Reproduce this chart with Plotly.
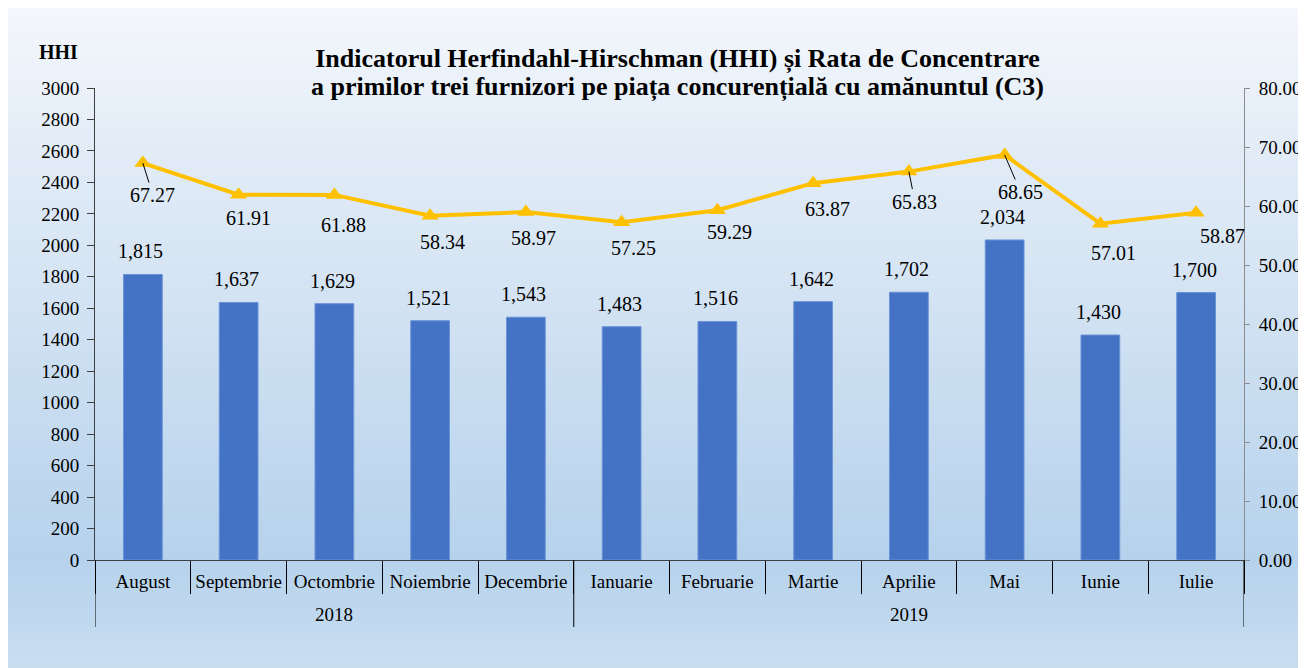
import plotly.graph_objects as go

# ---------------- data ----------------
years = ["2018"] * 5 + ["2019"] * 7
months = ["August", "Septembrie", "Octombrie", "Noiembrie", "Decembrie",
          "Ianuarie", "Februarie", "Martie", "Aprilie", "Mai", "Iunie", "Iulie"]
hhi = [1815, 1637, 1629, 1521, 1543, 1483, 1516, 1642, 1702, 2034, 1430, 1700]
c3 = [67.27, 61.91, 61.88, 58.34, 58.97, 57.25, 59.29, 63.87, 65.83, 68.65, 57.01, 58.87]
title_lines = ["Indicatorul Herfindahl-Hirschman (HHI) și Rata de Concentrare",
               "a primilor trei furnizori pe piața concurențială cu amănuntul (C3)"]

# label placement (pixel offsets of C3 labels from their point) and leader flags
c3_dx = [10, 10, 9, 12, 8, 12, 12, 14, 6, 16, 13, 26]
c3_dy = [32, 23, 30, 26, 26, 26, 22, 26, 30, 37, 29, 23]
c3_leader = [True, False, False, False, False, False, False, False, True, True, False, False]

W, H = 1306, 668
ML, MR, MT, MB = 87, 62, 80, 116
FONT = "Liberation Serif, Times New Roman, serif"
pw, ph = W - ML - MR, H - MT - MB

def px2x(px):
    return (px - ML) / pw

def py2y(py):
    return (H - MB - py) / ph

fig = go.Figure()

fig.add_trace(go.Bar(
    x=months, y=hhi,
    marker=dict(color="#4472C4", line=dict(color="#6a93d8", width=1)),
    hoverinfo="x+y", showlegend=False,
))

idx = list(range(len(months)))
fig.add_trace(go.Scatter(
    x=idx, y=c3, xaxis="x2", yaxis="y2", mode="lines+markers",
    line=dict(color="#FFC000", width=4),
    marker=dict(symbol="triangle-up", size=15, color="#FFC000"),
    showlegend=False,
))

# ---------------- background gradient ----------------
stops = [(0, (0xf4, 0xf7, 0xfc)), (142, (0xe2, 0xec, 0xf7)), (292, (0xd3, 0xe3, 0xf3)),
         (442, (0xc2, 0xd9, 0xef)), (552, (0xb6, 0xd2, 0xec)), (668, (0xca, 0xdf, 0xf2))]

def col_at(py):
    for (y0, c0), (y1, c1) in zip(stops[:-1], stops[1:]):
        if y0 <= py <= y1:
            t = (py - y0) / (y1 - y0)
            return "rgb(%d,%d,%d)" % tuple(round(a + (b - a) * t) for a, b in zip(c0, c1))
    return "rgb(%d,%d,%d)" % stops[-1][1]

shapes = []
step = 6
py = 0
while py < H:
    shapes.append(dict(type="rect", xref="paper", yref="paper",
                       x0=px2x(-2), x1=px2x(W + 2),
                       y0=py2y(min(py + step + 1, H + 2)), y1=py2y(py - (1 if py == 0 else 0)),
                       fillcolor=col_at(py + step / 2), line=dict(width=0), layer="below"))
    py += step

# year group dividers and labels
groups = []
for i, y in enumerate(years):
    if not groups or groups[-1][0] != y:
        groups.append([y, i, i])
    else:
        groups[-1][2] = i
bounds = sorted({g[1] - 0.5 for g in groups} | {g[2] + 0.5 for g in groups})
for b in bounds:
    shapes.append(dict(type="line", xref="x2", yref="paper", x0=b, x1=b,
                       y0=0, y1=-67 / ph, line=dict(color="#000", width=1)))

# ---------------- annotations ----------------
ann = []
for g in groups:
    ann.append(dict(x=(g[1] + g[2]) / 2, y=-54 / ph, xref="x2", yref="paper", text=g[0],
                    showarrow=False, xanchor="center", yanchor="middle",
                    font=dict(family=FONT, size=19, color="#000")))
for i, v in enumerate(hhi):
    ann.append(dict(x=i, y=v, xref="x2", yref="y", text=f"{v:,}", showarrow=False,
                    xshift=-2, yshift=23, font=dict(family=FONT, size=20, color="#000"),
                    xanchor="center", yanchor="middle"))
for i, v in enumerate(c3):
    if c3_leader[i]:
        ann.append(dict(x=i, y=v, xref="x2", yref="y2", text=f"{v:.2f}", showarrow=True,
                        arrowhead=0, arrowwidth=1, arrowcolor="#000", ax=c3_dx[i], ay=c3_dy[i],
                        font=dict(family=FONT, size=20, color="#000")))
    else:
        ann.append(dict(x=i, y=v, xref="x2", yref="y2", text=f"{v:.2f}", showarrow=False,
                        xshift=c3_dx[i], yshift=-c3_dy[i], xanchor="center", yanchor="middle",
                        font=dict(family=FONT, size=20, color="#000")))
ann.append(dict(x=px2x(50), y=py2y(44), xref="paper", yref="paper", text="<b>HHI</b>",
                showarrow=False, xanchor="center", yanchor="middle",
                font=dict(family=FONT, size=20, color="#000")))

title_text = "<br>".join(f"<b><span style='font-size:26px'>{t}</span></b>" for t in title_lines)

fig.update_layout(
    width=W, height=H,
    margin=dict(l=ML, r=MR, t=MT, b=MB, pad=0),
    paper_bgcolor="white", plot_bgcolor="rgba(0,0,0,0)",
    font=dict(family=FONT, color="#000"),
    title=dict(text=title_text, x=669.5 / W, xanchor="center", y=1 - 59 / H, yanchor="middle",
               font=dict(family=FONT, size=21.5, color="#000")),
    bargap=0.595,
    shapes=shapes,
    annotations=ann,
    xaxis=dict(type="category", range=[-0.5, 11.5], showline=True, linecolor="#404040",
               linewidth=1, ticks="outside", ticklen=33, tickcolor="#000", tickwidth=1,
               tickson="boundaries", ticklabelstandoff=4,
               tickfont=dict(family=FONT, size=19, color="#000"), showgrid=False, zeroline=False),
    xaxis2=dict(overlaying="x", range=[-0.5, 11.5], visible=False),
    yaxis=dict(range=[0, 3000], dtick=200, showline=True, linecolor="#404040", linewidth=1,
               ticks="outside", ticklen=7, tickcolor="#404040", ticklabelstandoff=4,
               tickfont=dict(family=FONT, size=19, color="#000"), showgrid=False, zeroline=False),
    yaxis2=dict(overlaying="y", side="right", range=[0, 80], dtick=10, tickformat=".2f",
                showline=True, linecolor="#8c8c8c", linewidth=1, ticks="outside", ticklen=5,
                tickcolor="#8c8c8c", ticklabelstandoff=5,
                tickfont=dict(family=FONT, size=19, color="#000"),
                showgrid=False, zeroline=False),
)

fig.write_html("out.html")
